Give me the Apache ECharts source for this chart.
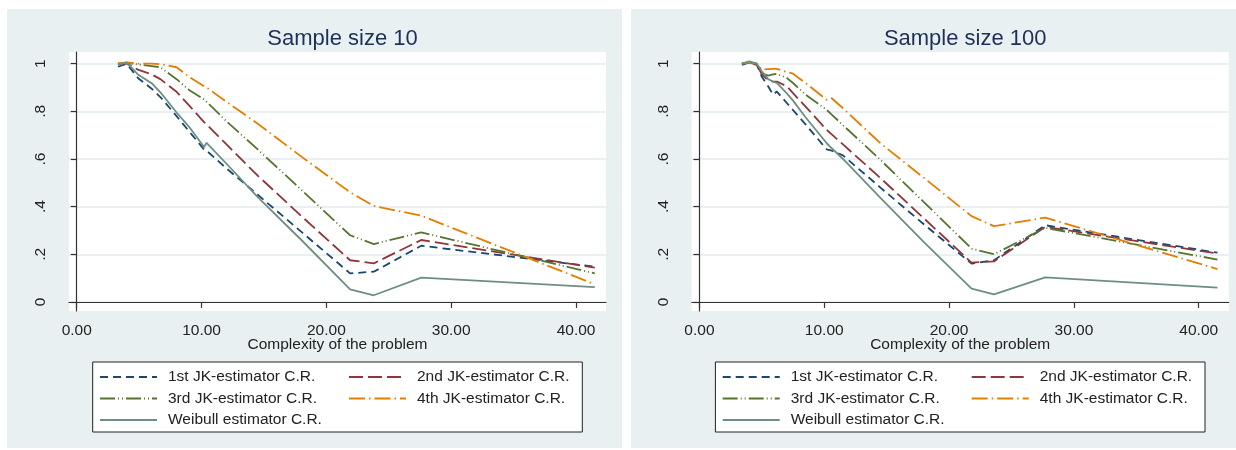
<!DOCTYPE html>
<html>
<head>
<meta charset="utf-8">
<script src="https://cdn.jsdelivr.net/npm/echarts@6/dist/echarts.min.js"></script>
<style>
  html, body { margin: 0; padding: 0; background: #fff; }
  #chart { width: 1236px; height: 450px; }
</style>
</head>
<body>
<div id="chart"></div>
<script>
// complexity of the problem (x) -- sample size 10 panel
const complexity10 = [3.3, 4.0, 4.9, 6.0, 6.7, 8.0, 9.0, 10.2, 10.4, 12.0, 14.5, 18.0, 21.9, 23.8, 27.6, 41.5];
const jk1_10 = [0.987, 1.0, 0.94, 0.895, 0.86, 0.78, 0.716, 0.64, 0.635, 0.56, 0.45, 0.294, 0.12, 0.127, 0.236, 0.148];
const jk2_10 = [1.0, 1.0, 0.975, 0.955, 0.935, 0.882, 0.825, 0.755, 0.745, 0.661, 0.53, 0.36, 0.175, 0.162, 0.26, 0.144];
const jk3_10 = [1.0, 1.003, 0.997, 0.99, 0.985, 0.935, 0.89, 0.85, 0.84, 0.758, 0.64, 0.47, 0.28, 0.243, 0.292, 0.12];
const jk4_10 = [1.0, 1.005, 1.0, 1.0, 0.998, 0.985, 0.945, 0.905, 0.9, 0.84, 0.748, 0.61, 0.46, 0.403, 0.362, 0.074];
const weib_10 = [0.995, 1.005, 0.955, 0.918, 0.88, 0.795, 0.735, 0.65, 0.668, 0.58, 0.44, 0.26, 0.053, 0.028, 0.102, 0.062];

// sample size 100 panel
const complexity100 = [3.4, 4.0, 4.6, 5.0, 5.5, 5.9, 6.2, 7.0, 7.5, 8.5, 10.2, 10.6, 11.5, 14.5, 18.0, 21.8, 23.6, 27.7, 41.5];
const jk1_100 = [0.995, 1.005, 0.995, 0.945, 0.905, 0.87, 0.883, 0.835, 0.805, 0.745, 0.64, 0.635, 0.615, 0.48, 0.325, 0.161, 0.175, 0.322, 0.207];
const jk2_100 = [1.0, 1.005, 0.995, 0.955, 0.93, 0.925, 0.925, 0.905, 0.876, 0.82, 0.722, 0.703, 0.661, 0.52, 0.35, 0.165, 0.17, 0.315, 0.203];
const jk3_100 = [1.0, 1.005, 1.0, 0.96, 0.95, 0.955, 0.957, 0.94, 0.919, 0.87, 0.806, 0.786, 0.742, 0.596, 0.418, 0.224, 0.2, 0.311, 0.178];
const jk4_100 = [1.0, 1.005, 1.0, 0.975, 0.977, 0.978, 0.978, 0.965, 0.958, 0.919, 0.848, 0.855, 0.813, 0.666, 0.52, 0.36, 0.318, 0.354, 0.138];
const weib_100 = [1.0, 1.01, 1.0, 0.968, 0.935, 0.925, 0.919, 0.875, 0.845, 0.775, 0.666, 0.645, 0.6, 0.437, 0.25, 0.056, 0.032, 0.103, 0.06];

const xTicks = [0, 10, 20, 30, 40];
const yTicks = [0, 0.2, 0.4, 0.6, 0.8, 1];
const titles = ['Sample size 10', 'Sample size 100'];
const names = ['1st JK-estimator C.R.', '2nd JK-estimator C.R.', '3rd JK-estimator C.R.', '4th JK-estimator C.R.', 'Weibull estimator C.R.'];

const font = '"Liberation Sans", Arial, sans-serif';
const textColor = '#222';

// stata s2color-ish styles
const styles = [
  { color: '#1a476f', type: [8, 5] },
  { color: '#90353b', type: [14, 5] },
  { color: '#55752f', type: [15, 3, 1, 3, 1, 3] },
  { color: '#e37e00', type: [16, 4, 1.5, 4] },
  { color: '#6e8e84', type: 'solid' },
];

const panels = [
  { x: complexity10, ys: [jk1_10, jk2_10, jk3_10, jk4_10, weib_10], left: 69, bg: 7, bgW: 615 },
  { x: complexity100, ys: [jk1_100, jk2_100, jk3_100, jk4_100, weib_100], left: 691.7, bg: 631, bgW: 605 },
];
const plotW = 537, plotTop = 52, plotH = 259;

const fmtY = (v) => (v === 0 ? '0' : v === 1 ? '1' : String(v).replace(/^0/, ''));

const chart = echarts.init(document.getElementById('chart'), null, { renderer: 'canvas' });

const grid = [], xAxis = [], yAxis = [], series = [], title = [], legend = [], graphic = [];

panels.forEach((p, pi) => {
  grid.push({
    left: p.left, top: plotTop, width: plotW, height: plotH,
    show: true, backgroundColor: '#fff', borderWidth: 0,
  });
  title.push({
    text: titles[pi], left: p.left + plotW / 2, top: 23, textAlign: 'center',
    textStyle: { fontSize: 22, fontWeight: 'normal', color: '#1e3059', fontFamily: font },
  });
  xAxis.push({
    type: 'value', gridIndex: pi, min: -0.62, max: 42.4,
    name: 'Complexity of the problem', nameLocation: 'middle', nameGap: 26, nameMoveOverlap: false,
    nameTextStyle: { fontSize: 15.5, color: textColor, fontFamily: font },
    axisLine: { show: true, lineStyle: { color: '#333', width: 1.2 } },
    axisTick: { show: true, length: 6, customValues: xTicks, lineStyle: { color: '#333', width: 1.2 } },
    axisLabel: { customValues: xTicks, formatter: (v) => v.toFixed(2), margin: 12, fontSize: 15.5, color: textColor, fontFamily: font },
    splitLine: { show: false },
  });
  yAxis.push({
    type: 'value', gridIndex: pi, min: -0.038, max: 1.049,
    axisLine: { show: true, lineStyle: { color: '#333', width: 1.2 } },
    axisTick: { show: true, length: 6, customValues: yTicks, lineStyle: { color: '#333', width: 1.2 } },
    axisLabel: { customValues: yTicks, rotate: 90, margin: 20, formatter: fmtY, fontSize: 15.5, color: textColor, fontFamily: font },
    splitLine: { show: true, lineStyle: { color: '#e2ebee', width: 1.5 } },
  });
  p.ys.forEach((vals, si) => {
    series.push({
      type: 'line', name: names[si], xAxisIndex: pi, yAxisIndex: pi,
      data: p.x.map((x, i) => [x, vals[i]]),
      showSymbol: false, symbol: 'none', animation: false, silent: true,
      lineStyle: { color: styles[si].color, type: styles[si].type, width: 1.8 },
      itemStyle: { color: styles[si].color },
    });
  });

  // legend: two columns, boxed
  const boxL = p.left + 23.7;
  const legendText = { fontSize: 15.5, color: textColor, fontFamily: font, padding: [0, 0, 0, 6], lineHeight: 16 };
  const legendBase = {
    orient: 'vertical', top: 369, padding: 0, itemWidth: 57, itemHeight: 14, itemGap: 5.5,
    selectedMode: false, textStyle: legendText, itemStyle: { opacity: 0 },
  };
  legend.push({ ...legendBase, left: boxL + 6.3, data: [names[0], names[2], names[4]] });
  legend.push({ ...legendBase, left: boxL + 255.3, data: [names[1], names[3]] });
  graphic.push({
    type: 'rect', z: -10, silent: true,
    shape: { x: p.bg, y: 9, width: p.bgW, height: 439 },
    style: { fill: '#e8f0f2' },
  });
  graphic.push({
    type: 'rect', z: 1, silent: true,
    shape: { x: boxL, y: 362, width: plotW - 47.4, height: 70 },
    style: { fill: '#fff', stroke: '#222', lineWidth: 1 },
  });
});

chart.setOption({
  animation: false,
  textStyle: { fontFamily: font },
  title, grid, xAxis, yAxis, series, legend, graphic,
});
</script>
</body>
</html>
